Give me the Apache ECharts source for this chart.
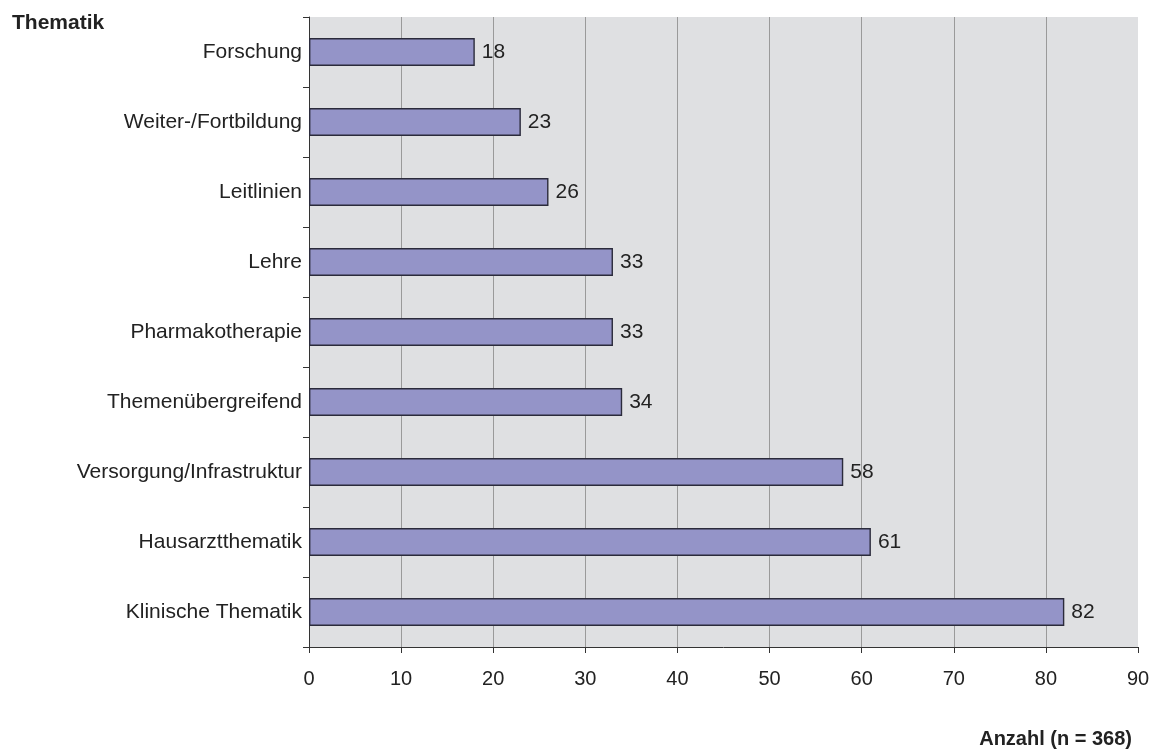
<!DOCTYPE html>
<html>
<head>
<meta charset="utf-8">
<style>
  html, body { margin: 0; padding: 0; background: #ffffff; }
  #chart { width: 1153px; height: 751px; }
</style>
<script src="https://cdn.jsdelivr.net/npm/echarts@6/dist/echarts.min.js"></script>
</head>
<body>
<div id="chart"></div>
<script>
// Topics, listed top to bottom
const categories = [
  'Forschung',
  'Weiter-/Fortbildung',
  'Leitlinien',
  'Lehre',
  'Pharmakotherapie',
  'Themenübergreifend',
  'Versorgung/Infrastruktur',
  'Hausarztthematik',
  'Klinische Thematik'
];
// Number of entries per topic
const counts = [18, 23, 26, 33, 33, 34, 58, 61, 82];

const xMin = 0;
const xMax = 90;
const xStep = 10;

const chart = echarts.init(document.getElementById('chart'), null, { renderer: 'canvas' });

const font = 'Liberation Sans, Arial, sans-serif';

chart.setOption({
  animation: false,
  backgroundColor: '#ffffff',
  textStyle: { fontFamily: font },
  title: [
    {
      text: 'Thematik',
      left: 7,
      top: 8,
      textStyle: { fontFamily: font, fontSize: 21, fontWeight: 'bold', color: '#222222' }
    },
    {
      text: 'Anzahl (n = 368)',
      right: 16,
      top: 724,
      textStyle: { fontFamily: font, fontSize: 20, fontWeight: 'bold', color: '#222222' }
    }
  ],
  grid: {
    left: 309,
    top: 17,
    width: 829,
    height: 630,
    show: true,
    backgroundColor: '#dfe0e2',
    borderWidth: 0
  },
  xAxis: {
    type: 'value',
    min: xMin,
    max: xMax,
    interval: xStep,
    axisLine: { show: true, lineStyle: { color: '#333333', width: 1 } },
    axisTick: { show: true, length: 6, lineStyle: { color: '#333333' } },
    axisLabel: { fontFamily: font, fontSize: 20, color: '#222222', margin: 22 },
    splitLine: {
      show: true,
      showMinLine: false,
      showMaxLine: false,
      lineStyle: { color: '#9a9a9a', width: 1 }
    }
  },
  yAxis: {
    type: 'category',
    data: categories,
    inverse: true,
    axisLine: { show: true, lineStyle: { color: '#333333', width: 1 } },
    axisTick: { show: true, length: 6, alignWithLabel: false, lineStyle: { color: '#333333' } },
    axisLabel: { fontFamily: font, fontSize: 21, color: '#222222', margin: 7 },
    splitLine: { show: false }
  },
  series: [
    {
      type: 'bar',
      data: counts,
      barWidth: 28,
      itemStyle: {
        color: '#9494c8',
        borderColor: '#2b2b3b',
        borderWidth: 1.4
      },
      label: {
        show: true,
        position: 'right',
        distance: 7,
        fontFamily: font,
        fontSize: 21,
        color: '#222222'
      }
    }
  ]
});
</script>
</body>
</html>
